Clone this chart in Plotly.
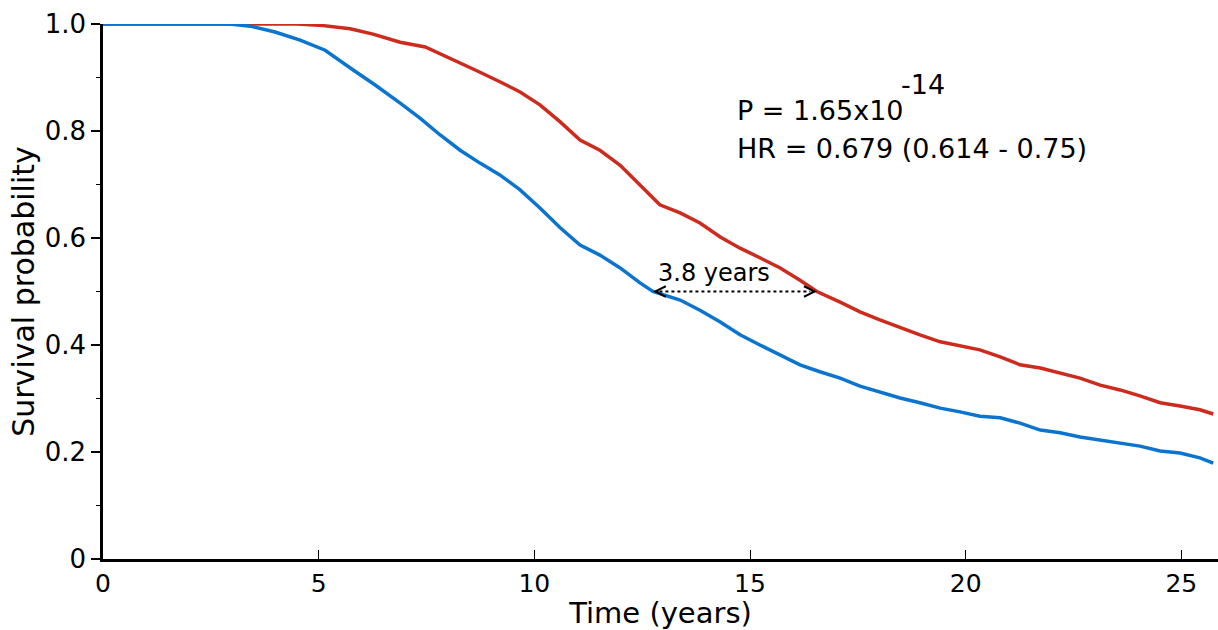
import plotly.graph_objects as go

# Kaplan-Meier survival estimates (time in years, survival probability)
time_blue = [0, 2.94, 3.41, 3.99, 4.57, 5.15, 5.80, 6.31, 6.89, 7.35, 7.81, 8.28, 8.74, 9.20,
             9.67, 10.13, 10.60, 11.06, 11.52, 11.99, 12.45, 12.75, 13.38, 13.84, 14.31, 14.77,
             15.23, 15.70, 16.16, 16.62, 17.09, 17.55, 18.01, 18.48, 18.94, 19.41, 19.87, 20.33,
             20.80, 21.26, 21.73, 22.19, 22.65, 23.12, 23.58, 24.04, 24.51, 24.97, 25.43, 25.74]
surv_blue = [1.0, 1.0, 0.996, 0.985, 0.970, 0.951, 0.914, 0.886, 0.852, 0.824, 0.793, 0.764, 0.740,
             0.718, 0.690, 0.656, 0.619, 0.587, 0.568, 0.544, 0.516, 0.500, 0.484, 0.465, 0.443,
             0.419, 0.400, 0.381, 0.363, 0.350, 0.338, 0.323, 0.312, 0.301, 0.292, 0.282, 0.275,
             0.267, 0.264, 0.254, 0.241, 0.236, 0.228, 0.222, 0.217, 0.211, 0.202, 0.198, 0.189,
             0.179]

time_red = [0, 4.50, 5.10, 5.73, 6.26, 6.89, 7.47, 8.05, 8.63, 9.20, 9.67, 10.13, 10.60, 11.06,
            11.52, 11.99, 12.45, 12.91, 13.38, 13.84, 14.31, 14.77, 15.23, 15.70, 16.16, 16.55,
            17.09, 17.55, 18.01, 18.48, 18.94, 19.41, 19.87, 20.33, 20.80, 21.26, 21.73, 22.19,
            22.65, 23.12, 23.58, 24.04, 24.51, 24.97, 25.43, 25.74]
surv_red = [1.0, 1.0, 0.997, 0.991, 0.981, 0.966, 0.957, 0.936, 0.914, 0.892, 0.873, 0.849, 0.817,
            0.783, 0.764, 0.736, 0.699, 0.662, 0.647, 0.628, 0.602, 0.581, 0.563, 0.544, 0.521,
            0.500, 0.480, 0.462, 0.447, 0.432, 0.419, 0.406, 0.398, 0.391, 0.378, 0.363, 0.357,
            0.348, 0.338, 0.325, 0.316, 0.305, 0.292, 0.286, 0.279, 0.271]

# Median survival of the low group and the gain shown by the arrow
median_blue = 12.75
median_gain = 3.8
median_level = 0.5

x_ticks = [0, 5, 10, 15, 20, 25]
y_ticks = [0, 0.2, 0.4, 0.6, 0.8, 1.0]
y_tick_text = ["0", "0.2", "0.4", "0.6", "0.8", "1.0"]

p_text = "P = 1.65x10"
p_exp = "-14"
hr_text = "HR = 0.679 (0.614 - 0.75)"
gap_text = "3.8 years"

BLUE = "#0b74cf"
RED = "#cc2b1d"
FONT = "DejaVu Sans, Liberation Sans, Arial, sans-serif"

fig = go.Figure()
fig.add_trace(go.Scatter(x=time_red, y=surv_red, mode="lines",
                         line=dict(color=RED, width=3.5), showlegend=False))
fig.add_trace(go.Scatter(x=time_blue, y=surv_blue, mode="lines",
                         line=dict(color=BLUE, width=3.5), showlegend=False))

# Dotted double-headed arrow between the two medians
x0 = median_blue
x1 = median_blue + median_gain
fig.add_shape(type="line", x0=x0 + 0.15, x1=x1 - 0.15, y0=median_level, y1=median_level,
              xref="x", yref="y", line=dict(color="black", width=2, dash="dot"))
for xe, off in ((x0, 6), (x1, -6)):
    fig.add_annotation(x=xe, y=median_level, ax=off, ay=0, xref="x", yref="y",
                       text="", showarrow=True, arrowhead=5, arrowsize=1.6,
                       arrowwidth=1.3, arrowcolor="black", standoff=0)
fig.add_annotation(x=(x0 + x1) / 2, y=median_level, xshift=-21, yshift=19,
                   xref="x", yref="y", text=gap_text, showarrow=False,
                   font=dict(size=24, color="black", family=FONT))

# Test statistics
fig.add_annotation(x=0.567, y=0.839, xref="paper", yref="paper", xanchor="left",
                   yanchor="middle", text=p_text, showarrow=False,
                   font=dict(size=27, color="black", family=FONT))
fig.add_annotation(x=0.714, y=0.886, xref="paper", yref="paper", xanchor="left",
                   yanchor="middle", text=p_exp, showarrow=False,
                   font=dict(size=27, color="black", family=FONT))
fig.add_annotation(x=0.567, y=0.767, xref="paper", yref="paper", xanchor="left",
                   yanchor="middle", text=hr_text, showarrow=False,
                   font=dict(size=27, color="black", family=FONT))

fig.update_layout(
    width=1218, height=630,
    margin=dict(l=103, r=0, t=24, b=71),
    paper_bgcolor="white", plot_bgcolor="white",
    font=dict(family=FONT, color="black"),
    xaxis=dict(range=[0, 25.85], tickvals=x_ticks, ticks="inside", ticklen=9,
               tickwidth=1.3, tickcolor="black", showline=True, linecolor="black",
               linewidth=2.5, showgrid=False, zeroline=False,
               tickfont=dict(size=25, family=FONT),
               title=dict(text="Time (years)", font=dict(size=29, family=FONT), standoff=3)),
    yaxis=dict(range=[0, 1.0], tickvals=y_ticks, ticktext=y_tick_text, ticks="outside",
               ticklen=9, tickwidth=2, tickcolor="black", showline=True, linecolor="black",
               linewidth=2.5, showgrid=False, zeroline=False,
               tickfont=dict(size=26, family=FONT),
               minor=dict(dtick=0.1, ticks="outside", ticklen=4, tickwidth=1.3,
                          tickcolor="black", showgrid=False),
               title=dict(text="Survival probability", font=dict(size=30, family=FONT),
                          standoff=2)),
)

fig.write_html("out.html")
